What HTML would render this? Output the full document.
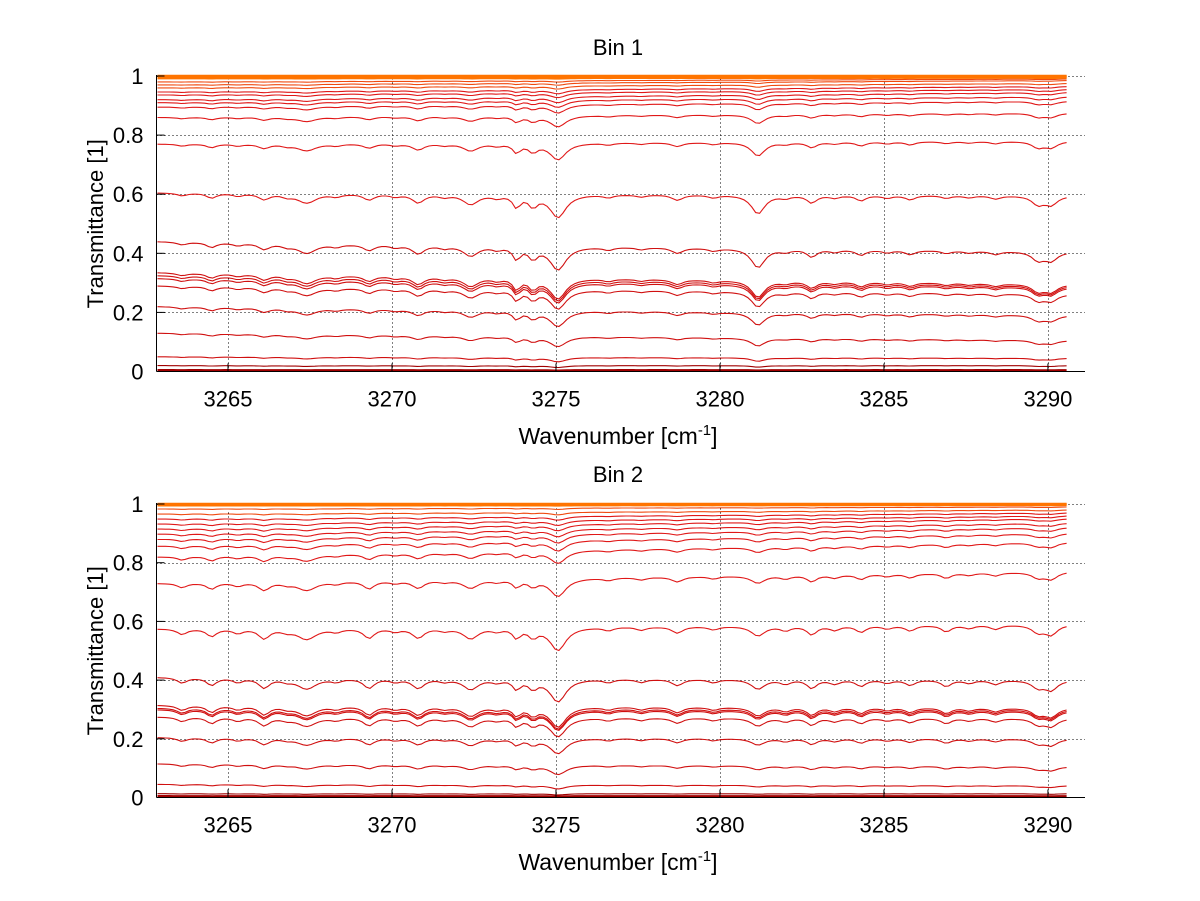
<!DOCTYPE html>
<html><head><meta charset="utf-8">
<style>
html,body{margin:0;padding:0;background:#fff;}
svg{display:block;font-family:"Liberation Sans",sans-serif;}
</style></head>
<body>
<svg id="chart" width="1200" height="901" viewBox="0 0 1200 901" xmlns="http://www.w3.org/2000/svg"></svg>
<script>
// ---- data ----
const xTicks = [3265, 3270, 3275, 3280, 3285, 3290];
const yTicks = [0, 0.2, 0.4, 0.6, 0.8, 1];
const yTickLabels = ["0", "0.2", "0.4", "0.6", "0.8", "1"];
const panelTitles = ["Bin 1", "Bin 2"];
// absorption line centres [cm-1]
const lineCenters = [3263.6, 3264.5, 3265.3, 3266.1, 3266.8, 3267.4, 3268.3, 3269.3, 3270.1, 3270.8, 3271.6, 3272.4, 3273.2, 3273.8, 3274.3, 3275.06, 3276.6, 3277.6, 3278.7, 3279.8, 3281.16, 3282.0, 3282.8, 3283.5, 3284.3, 3285.1, 3285.8, 3286.9, 3287.6, 3288.4, 3289.7, 3290.1];
const lineWidths  = [0.18, 0.18, 0.18, 0.2, 0.18, 0.35, 0.18, 0.2, 0.18, 0.22, 0.18, 0.28, 0.18, 0.14, 0.16, 0.3, 0.18, 0.18, 0.2, 0.18, 0.25, 0.18, 0.18, 0.18, 0.18, 0.18, 0.18, 0.18, 0.18, 0.18, 0.22, 0.22];
const depthsBin1  = [0.10, 0.18, 0.10, 0.22, 0.10, 0.35, 0.10, 0.22, 0.10, 0.32, 0.10, 0.38, 0.12, 0.45, 0.40, 0.85, 0.10, 0.08, 0.20, 0.10, 0.70, 0.10, 0.28, 0.10, 0.20, 0.10, 0.16, 0.10, 0.08, 0.12, 0.32, 0.32];
const depthsBin2  = [0.20, 0.28, 0.16, 0.36, 0.10, 0.40, 0.12, 0.36, 0.12, 0.36, 0.10, 0.40, 0.12, 0.36, 0.32, 0.85, 0.12, 0.12, 0.24, 0.12, 0.36, 0.16, 0.32, 0.16, 0.24, 0.12, 0.20, 0.24, 0.12, 0.16, 0.28, 0.36];
// curve baseline levels (left end / right end)
const startBin1 = [1.0, 0.998, 0.996, 0.993, 0.98, 0.97, 0.96, 0.946, 0.936, 0.92, 0.91, 0.895, 0.86, 0.77, 0.605, 0.44, 0.335, 0.325, 0.315, 0.29, 0.22, 0.13, 0.05, 0.02, 0.004];
const endBin1   = [1.0, 0.999, 0.997, 0.995, 0.99, 0.985, 0.975, 0.965, 0.955, 0.945, 0.93, 0.915, 0.875, 0.78, 0.595, 0.405, 0.295, 0.29, 0.285, 0.262, 0.19, 0.105, 0.045, 0.02, 0.004];
const startBin2 = [1.0, 0.998, 0.996, 0.983, 0.966, 0.949, 0.932, 0.915, 0.898, 0.88, 0.857, 0.82, 0.73, 0.575, 0.41, 0.315, 0.305, 0.3, 0.275, 0.205, 0.115, 0.045, 0.013, 0.004];
const endBin2   = [1.0, 0.999, 0.997, 0.99, 0.98, 0.97, 0.96, 0.95, 0.935, 0.92, 0.9, 0.87, 0.77, 0.59, 0.40, 0.305, 0.3, 0.295, 0.27, 0.2, 0.105, 0.04, 0.013, 0.004];
const dataStart = 3262.85, dataEnd = 3290.65, dataStep = 0.12;

// ---- layout ----
const NS = "http://www.w3.org/2000/svg";
const svg = document.getElementById("chart");
const panels = [
  {left:156.5, right:1085, y0:371.5, y1:76, title:55, xlab:444, depths:depthsBin1, starts:startBin1, ends:endBin1},
  {left:156.5, right:1085, y0:797.5, y1:504, title:482, xlab:870, depths:depthsBin2, starts:startBin2, ends:endBin2}
];
const xMin = 3262.82, xMax = 3291.13;
function mk(tag, attrs, parent){const e=document.createElementNS(NS,tag);for(const k in attrs)e.setAttribute(k,attrs[k]);(parent||svg).appendChild(e);return e;}
function absorb(x, depths){
  let d=0;
  for(let i=0;i<lineCenters.length;i++){
    const u=(x-lineCenters[i])/lineWidths[i];
    d+=depths[i]/(1+u*u);
  }
  return d;
}
function colorFor(level){
  if(level>0.99) return "#ff7400";
  if(level>0.95) return "#f04a10";
  if(level>0.5) return "#e01818";
  if(level>0.03) return "#d01010";
  return "#a00000";
}

panels.forEach((p,pi)=>{
  const g = mk("g",{});
  
  
  const sx = v => p.left + (v-xMin)/(xMax-xMin)*(p.right-p.left);
  const sy = v => p.y0 + (p.y1-p.y0)*v;
  // grid
  xTicks.forEach(t=>{
    const l=mk("line",{x1:Math.round(sx(t))+0.5,x2:Math.round(sx(t))+0.5,y1:p.y0,y2:sy(1),stroke:"#000","stroke-width":1,"stroke-dasharray":"1,3","shape-rendering":"crispEdges"},g);
    
    
  });
  yTicks.slice(1).forEach(t=>{
    const l=mk("line",{x1:p.left,x2:p.right,y1:Math.round(sy(t))+0.5,y2:Math.round(sy(t))+0.5,stroke:"#000","stroke-width":1,"stroke-dasharray":"1,3","shape-rendering":"crispEdges"},g);
    
    
  });
  // curves (draw low first so orange on top)
  const n = p.starts.length;
  for(let c=n-1;c>=0;c--){
    let d="";
    for(let x=dataStart;x<=dataEnd+1e-9;x+=dataStep){
      const f=(x-dataStart)/(dataEnd-dataStart);
      const lev=p.starts[c]+(p.ends[c]-p.starts[c])*f;
      const v=lev-0.38*lev*(1-lev)*absorb(x,p.depths);
      d+=(d?"L":"M")+sx(x).toFixed(1)+","+sy(v).toFixed(1);
    }
    const lev=p.starts[c];
    const path=mk("path",{d:d,fill:"none",stroke:colorFor(lev),"stroke-width":lev>0.99||lev<0.01?2.5:1.1},g);
    
    
  }
  // axes
  const ax=mk("line",{x1:p.left,x2:p.left,y1:p.y0,y2:sy(1)-1,stroke:"#000","stroke-width":1},g);
  
  
  const bx=mk("line",{x1:p.left,x2:p.right,y1:p.y0,y2:p.y0,stroke:"#000","stroke-width":1},g);
  
  
  xTicks.forEach(t=>{
    mk("line",{x1:sx(t),x2:sx(t),y1:p.y0,y2:p.y0-8,stroke:"#000"},g);
    const tx=mk("text",{x:sx(t),y:p.y0+35,"text-anchor":"middle","font-size":22,fill:"#000"},g);
    tx.textContent=t;
    
    
  });
  yTicks.forEach((t,i)=>{
    mk("line",{x1:p.left,x2:p.left+8,y1:sy(t),y2:sy(t),stroke:"#000"},g);
    const tx=mk("text",{x:p.left-13,y:sy(t)+8,"text-anchor":"end","font-size":22,fill:"#000"},g);
    tx.textContent=yTickLabels[i];
    
    
  });
  const tt=mk("text",{x:618,y:p.title,"text-anchor":"middle","font-size":22,fill:"#000"},g);
  tt.textContent=panelTitles[pi];
  
  
  const xl=mk("text",{x:618,y:p.xlab,"text-anchor":"middle","font-size":23,fill:"#000"},g);
  xl.innerHTML='Wavenumber [cm<tspan dy="-9" font-size="15">-1</tspan><tspan dy="9">]</tspan>';
  
  
  const yc=(p.y0+p.y1)/2;
  const yl=mk("text",{x:103,y:yc,"text-anchor":"middle","font-size":22,fill:"#000",transform:"rotate(-90 103 "+yc+")"},g);
  yl.textContent="Transmittance [1]";
  
  
});
</script>
</body></html>
